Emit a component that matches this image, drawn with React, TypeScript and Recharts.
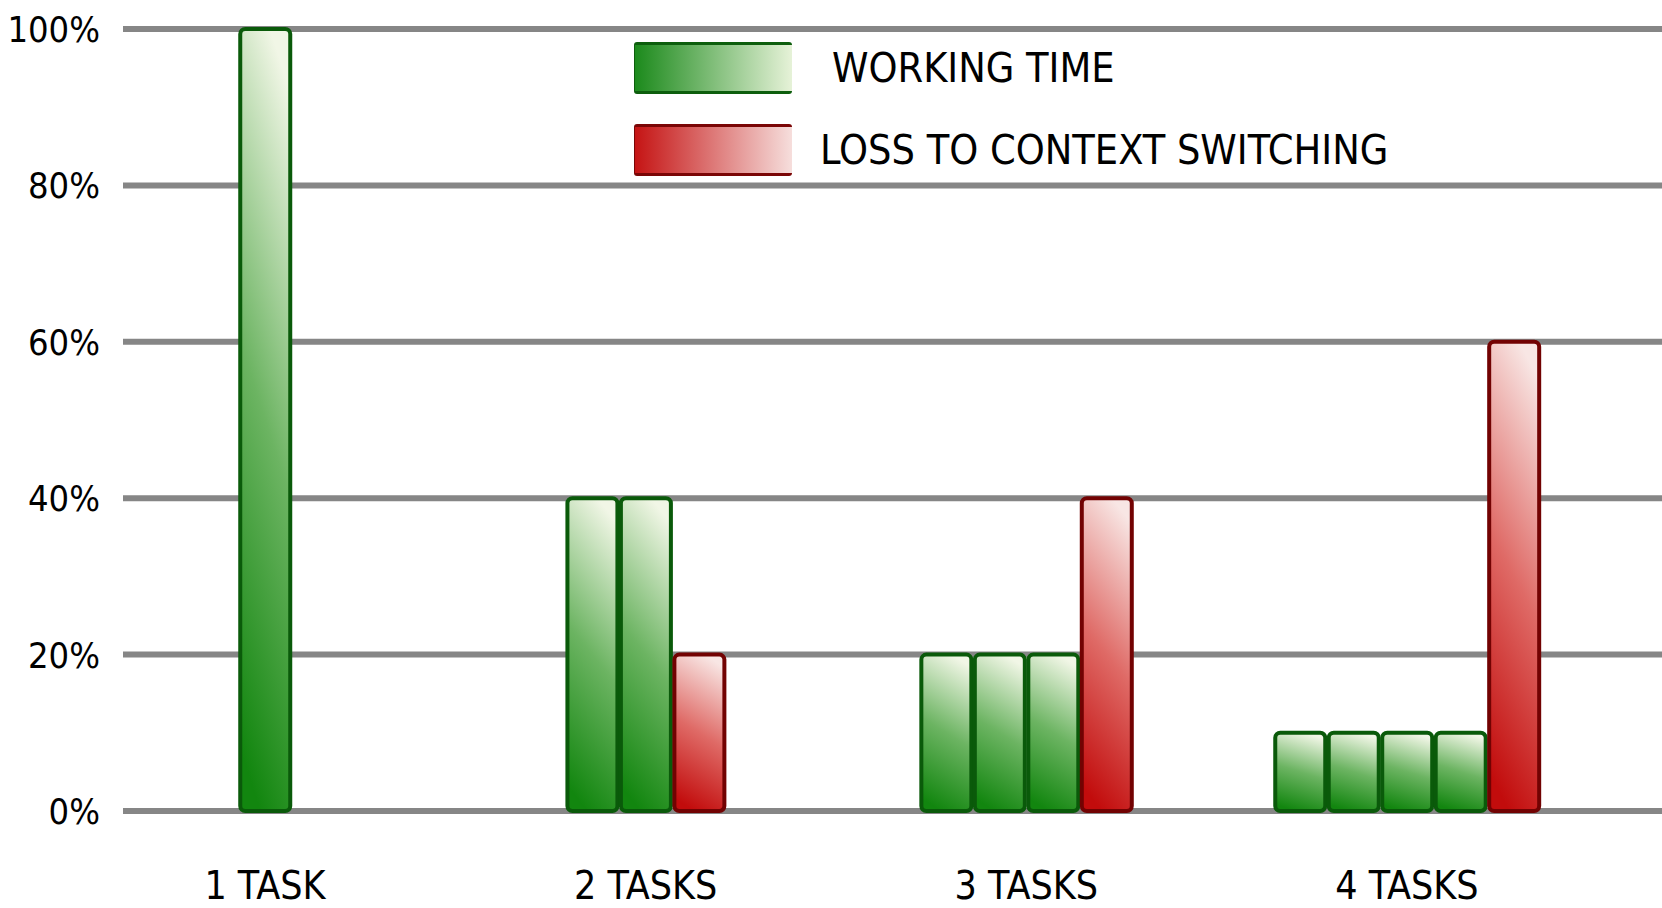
import { BarChart, Bar, XAxis, YAxis, CartesianGrid, Legend } from 'recharts'

// values
const categories = ['1 TASK', '2 TASKS', '3 TASKS', '4 TASKS']
const workingTime = [[100], [40, 40], [20, 20, 20], [10, 10, 10, 10]]
const contextLoss = [0, 20, 40, 60]
const yTicks = [0, 20, 40, 60, 80, 100]

// layout: distance between neighbouring bars, in category units
const BAR_PITCH = 0.1405
const FONT = '"DejaVu Sans Condensed", "Liberation Sans Narrow", "Open Sans", sans-serif'

// one row per drawn bar, centred on its category
const rows: any[] = []
categories.forEach((_, i) => {
  const vals = workingTime[i]
  const n = vals.length + (contextLoss[i] > 0 ? 1 : 0)
  vals.forEach((v, j) => {
    rows.push({ pos: i + (j - (n - 1) / 2) * BAR_PITCH, working: v })
  })
  if (contextLoss[i] > 0) {
    rows.push({ pos: i + (n - 1 - (n - 1) / 2) * BAR_PITCH, loss: contextLoss[i] })
  }
})

const legendItems = [
  { key: 'working', label: 'WORKING TIME', from: '#1c8a1c', to: '#e6f2d8', edge: '#0d5e0d' },
  { key: 'loss', label: 'LOSS TO CONTEXT SWITCHING', from: '#c51414', to: '#f6dedc', edge: '#7a0606' },
]

function XTick({ x, payload }: any) {
  return (
    <text x={x} y={899} textAnchor="middle" fontFamily={FONT} fontSize={39} fill="#000">
      {categories[payload.value]}
    </text>
  )
}

function YTick({ y, payload }: any) {
  return (
    <text x={100} y={y + 13} textAnchor="end" fontFamily={FONT} fontSize={36} fill="#000">
      {`${payload.value}%`}
    </text>
  )
}

function LegendBox() {
  return (
    <div style={{ fontFamily: FONT }}>
      {legendItems.map((it, i) => (
        <div
          key={it.key}
          style={{ display: 'flex', alignItems: 'center', height: 52, marginBottom: i === 0 ? 30 : 0 }}
        >
          <div
            style={{
              width: 157,
              height: 46,
              background: `linear-gradient(to right, ${it.from}, ${it.to})`,
              borderTop: `3px solid ${it.edge}`,
              borderBottom: `3px solid ${it.edge}`,
              borderLeft: `1px solid ${it.edge}`,
              borderRadius: 3,
            }}
          />
          <span
            style={{
              marginLeft: i === 0 ? 40 : 28,
              fontSize: 41,
              color: '#000',
              whiteSpace: 'nowrap',
            }}
          >
            {it.label}
          </span>
        </div>
      ))}
    </div>
  )
}

export default function App() {
  return (
    <div style={{ position: 'absolute', left: 0, top: 0, width: 1662, height: 908, background: '#fff' }}>
      <BarChart width={1662} height={908} data={rows} margin={{ top: 29, right: 0, bottom: 0, left: 0 }}>
        <defs>
          <linearGradient id="gWork" x1="0.4" y1="1" x2="0.6" y2="0">
            <stop offset="0%" stopColor="#12860f" />
            <stop offset="50%" stopColor="#6cb462" />
            <stop offset="100%" stopColor="#f1f6e6" />
          </linearGradient>
          <linearGradient id="gLoss" x1="0.4" y1="1" x2="0.6" y2="0">
            <stop offset="0%" stopColor="#c20c0c" />
            <stop offset="50%" stopColor="#df6a66" />
            <stop offset="100%" stopColor="#f8e6e4" />
          </linearGradient>
        </defs>
        <CartesianGrid vertical={false} stroke="#868686" strokeWidth={6} />
        <XAxis
          type="number"
          dataKey="pos"
          domain={[-0.373, 3.67]}
          allowDataOverflow
          ticks={[0, 1, 2, 3]}
          tick={<XTick />}
          axisLine={false}
          tickLine={false}
          height={97}
        />
        <YAxis
          domain={[0, 100]}
          ticks={yTicks}
          tick={<YTick />}
          axisLine={false}
          tickLine={false}
          width={123}
        />
        <Legend
          layout="vertical"
          align="center"
          verticalAlign="middle"
          content={<LegendBox />}
          wrapperStyle={{ left: 634, top: 42, width: 'auto' }}
        />
        <Bar
          dataKey="working"
          name="Working time"
          stackId="a"
          barSize={50}
          fill="url(#gWork)"
          stroke="#0a5a0a"
          strokeWidth={4}
          radius={5}
          isAnimationActive={false}
        />
        <Bar
          dataKey="loss"
          name="Loss to context switching"
          stackId="a"
          barSize={50}
          fill="url(#gLoss)"
          stroke="#720202"
          strokeWidth={4}
          radius={5}
          isAnimationActive={false}
        />
      </BarChart>
    </div>
  )
}
